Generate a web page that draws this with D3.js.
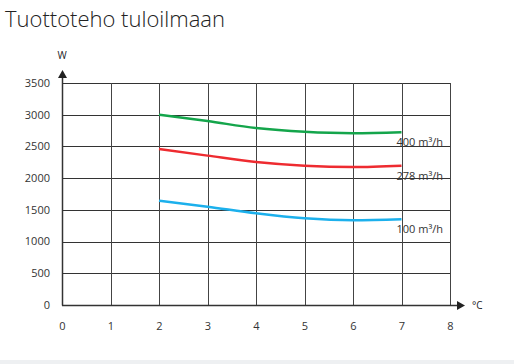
<!DOCTYPE html>
<html>
<head>
<meta charset="utf-8">
<script src="https://cdn.jsdelivr.net/npm/d3@7"></script>
<style>
  body { margin: 0; background: #fff; }
  svg { display: block; }
</style>
</head>
<body>
<svg id="drawing_region"></svg>
<script>
// temperatures (°C) at which the curves are given
const temps = [2, 3, 4, 5, 6, 7];
// supply power (W) per air flow
const flow400 = [3000, 2900, 2790, 2730, 2707, 2722];
const flow278 = [2460, 2355, 2255, 2197, 2176, 2197];
const flow100 = [1645, 1550, 1445, 1366, 1335, 1350];
const seriesNames = ["400 m³/h", "278 m³/h", "100 m³/h"];
const seriesColors = ["#14a54b", "#ee2b30", "#1cb0ec"];
const xTicks = [0, 1, 2, 3, 4, 5, 6, 7, 8];
const yTicks = [0, 500, 1000, 1500, 2000, 2500, 3000, 3500];

const config = {
    width: 514,
    height: 364,
    margin: {top: 83, right: 64, bottom: 59, left: 62}
};

const svg = d3.select('#drawing_region')
    .attr('width', config.width)
    .attr('height', config.height);

// light strip at the bottom
svg.append('rect')
    .attr('x', 0).attr('y', 360)
    .attr('width', config.width).attr('height', 4)
    .attr('fill', '#eef0f2');

svg.append('text')
    .attr('x', 5).attr('y', 27)
    .attr('font-family', 'Open Sans, sans-serif')
    .attr('font-weight', 300)
    .attr('font-size', '22px')
    .attr('fill', '#222')
    .text('Tuottoteho tuloilmaan');

const inner_width = config.width - config.margin.left - config.margin.right;
const inner_height = config.height - config.margin.top - config.margin.bottom;

const chart = svg.append('g')
    .attr('transform', `translate(${config.margin.left}, ${config.margin.top})`);

const xscale = d3.scaleLinear().domain([0, 8]).range([0, inner_width]);
const yscale = d3.scaleLinear().domain([0, 3500]).range([inner_height, 0]);

// grid
chart.append('g').selectAll('line.h')
    .data(yTicks).join('line')
    .attr('x1', 0).attr('x2', inner_width)
    .attr('y1', d => Math.round(yscale(d)) + 0.5)
    .attr('y2', d => Math.round(yscale(d)) + 0.5)
    .attr('stroke', '#333').attr('stroke-width', 1);

chart.append('g').selectAll('line.v')
    .data(xTicks).join('line')
    .attr('y1', 0).attr('y2', inner_height)
    .attr('x1', d => Math.round(xscale(d)) + 0.5)
    .attr('x2', d => Math.round(xscale(d)) + 0.5)
    .attr('stroke', '#444').attr('stroke-width', 1);

// axes with arrows
chart.append('line')
    .attr('x1', 0.5).attr('x2', 0.5)
    .attr('y1', inner_height + 0.5).attr('y2', -6)
    .attr('stroke', '#333').attr('stroke-width', 1.5);
chart.append('path')
    .attr('d', 'M0.5,-13 L-4,-5 L5,-5 Z')
    .attr('fill', '#222');
chart.append('line')
    .attr('x1', 0).attr('x2', inner_width + 8)
    .attr('y1', inner_height + 0.5).attr('y2', inner_height + 0.5)
    .attr('stroke', '#333').attr('stroke-width', 1.5);
chart.append('path')
    .attr('d', `M${inner_width + 15},${inner_height + 0.5} L${inner_width + 7},${inner_height - 4} L${inner_width + 7},${inner_height + 5} Z`)
    .attr('fill', '#222');

const tickFont = 'Open Sans, sans-serif';

chart.append('g').selectAll('text')
    .data(yTicks).join('text')
    .attr('x', -12)
    .attr('y', d => yscale(d))
    .attr('dy', '0.35em')
    .attr('text-anchor', 'end')
    .attr('font-family', tickFont)
    .attr('font-size', '11px')
    .attr('fill', '#333')
    .text(d => d);

chart.append('g').selectAll('text')
    .data(xTicks).join('text')
    .attr('x', d => xscale(d) + 0.5)
    .attr('y', inner_height + 25)
    .attr('text-anchor', 'middle')
    .attr('font-family', tickFont)
    .attr('font-size', '11px')
    .attr('fill', '#333')
    .text(d => d);

chart.append('text')
    .attr('x', 0).attr('y', -24)
    .attr('text-anchor', 'middle')
    .attr('font-family', tickFont)
    .attr('font-size', '10px')
    .attr('fill', '#222')
    .text('W');

chart.append('text')
    .attr('x', inner_width + 22).attr('y', inner_height + 4)
    .attr('font-family', tickFont)
    .attr('font-size', '10px')
    .attr('fill', '#222')
    .text('°C');

// curves
const series = [flow400, flow278, flow100].map((vals, i) => ({
    name: seriesNames[i],
    color: seriesColors[i],
    values: vals.map((v, j) => ({x: temps[j], y: v}))
}));

const line = d3.line()
    .x(d => xscale(d.x))
    .y(d => yscale(d.y))
    .curve(d3.curveMonotoneX);

chart.append('g').selectAll('path')
    .data(series).join('path')
    .attr('d', d => line(d.values))
    .attr('fill', 'none')
    .attr('stroke', d => d.color)
    .attr('stroke-width', 2.5);

chart.append('g').selectAll('text')
    .data(series).join('text')
    .attr('x', xscale(7) - 5)
    .attr('y', d => yscale(d.values[d.values.length - 1].y) + 14)
    .attr('font-family', tickFont)
    .attr('font-size', '11px')
    .attr('fill', '#333')
    .text(d => d.name);
</script>
</body>
</html>
